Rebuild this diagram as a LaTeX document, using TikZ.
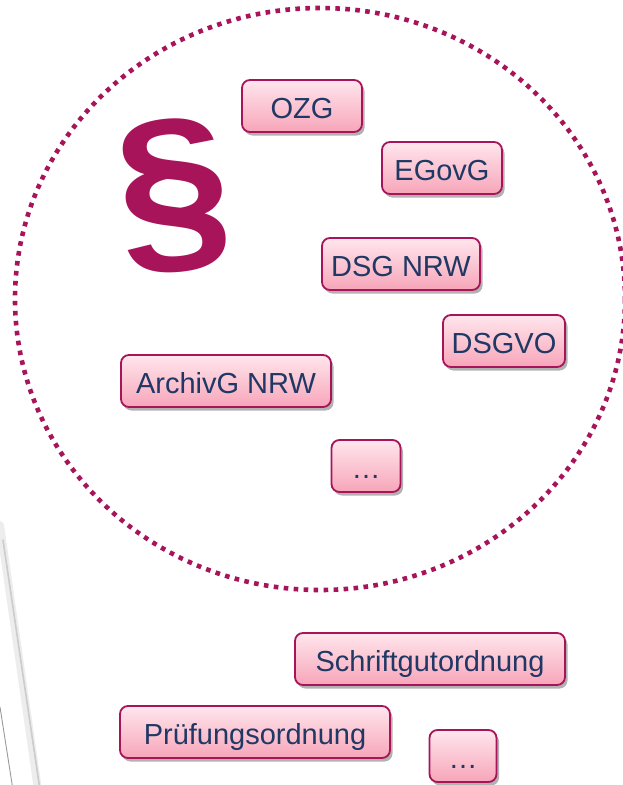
\documentclass[tikz,border=0pt]{standalone}
\usepackage{fontspec}
\setmainfont{Liberation Sans}
\usetikzlibrary{shadows}
\definecolor{crim}{RGB}{168,20,90}
\definecolor{navy}{RGB}{31,56,100}
\definecolor{pinktop}{RGB}{255,230,237}
\definecolor{pinkbot}{RGB}{247,165,185}
\tikzset{
  lawbox/.style={draw=crim, line width=1.8pt, rounded corners=8pt,
    top color=pinktop, bottom color=pinkbot,
    drop shadow={shadow xshift=2.5pt, shadow yshift=-3.5pt, opacity=0.3, fill=black},
    text=navy, font=\fontsize{29}{34}\selectfont,
    minimum height=52pt, inner sep=0pt, text height=25pt, text depth=0pt},
  ring/.style={draw=crim, line width=4.6pt, dash pattern=on 4.6pt off 5.4pt},
  deco/.style={line cap=round}
}
\begin{document}
\begin{tikzpicture}[x=1pt,y=-1pt]
\useasboundingbox (0,0) rectangle (623,785);
\clip (0,0) rectangle (623,785);
% slide decoration at lower left
\draw[deco, black!7, line width=8pt] (0,525) -- (38,790);
\draw[deco, black!20, line width=1.6pt] (3,540) -- (40,790);
\draw[deco, black!40, line width=0.9pt] (0,707) -- (13,790);
% dotted ring
\draw[ring] (320,299) ellipse [x radius=305, y radius=291];
% paragraph sign
\node[text=crim, font=\fontsize{190}{190}\bfseries, inner sep=0pt, xscale=1.08, rotate=6] (para) at (174,196) {§};
% boxes
\node[lawbox, minimum width=120pt] (ozg) at (302,106) {OZG};
\node[lawbox, minimum width=120pt] (egovg) at (442,168) {EGovG};
\node[lawbox, minimum width=158pt] (dsgnrw) at (401,264) {DSG NRW};
\node[lawbox, minimum width=122pt] (dsgvo) at (504,341) {DSGVO};
\node[lawbox, minimum width=210pt] (archivg) at (226,381) {ArchivG NRW};
\node[lawbox, minimum width=69pt] (more1) at (366,466) {…};
\node[lawbox, minimum width=270pt] (sgo) at (430,659) {Schriftgutordnung};
\node[lawbox, minimum width=270pt] (po) at (255,732) {Prüfungsordnung};
\node[lawbox, minimum width=67pt] (more2) at (463,756) {…};
\end{tikzpicture}
\end{document}
